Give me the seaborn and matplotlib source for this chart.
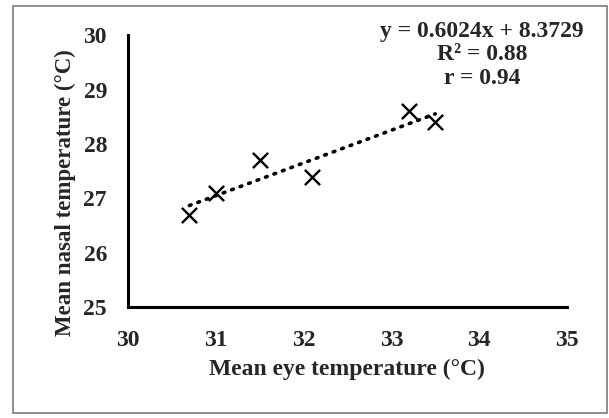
import numpy as np
import matplotlib
matplotlib.use('Agg')
import matplotlib.pyplot as plt
import seaborn as sns
import pandas as pd

sns.set_style('white')
plt.rcParams['font.family'] = ['Liberation Serif', 'DejaVu Serif']
plt.rcParams['font.weight'] = 'bold'

#### DATA ####
eye_temp = [30.7, 31.0, 31.5, 32.1, 33.2, 33.5]
nasal_temp = [26.7, 27.1, 27.7, 27.4, 28.6, 28.4]
x_ticks = [30, 31, 32, 33, 34, 35]
y_ticks = [25, 26, 27, 28, 29, 30]
eq_lines = ['y = 0.6024x + 8.3729', 'R² = 0.88', 'r = 0.94']

df = pd.DataFrame({'eye': eye_temp, 'nasal': nasal_temp})

fig = plt.figure(figsize=(6.09, 4.18), dpi=100)
ax = fig.add_axes([0.210, 0.2656, 0.721, 0.650])

# trend line
slope, intercept = np.polyfit(df['eye'], df['nasal'], 1)
xl = np.array([df['eye'].min(), df['eye'].max()])
ax.plot(xl, slope * xl + intercept, linestyle=(0, (0.5, 2.0)), color='black',
        linewidth=2.6, dash_capstyle='round', zorder=1)

sns.scatterplot(data=df, x='eye', y='nasal', marker='x', s=120, color='black',
                linewidth=1.7, ax=ax, zorder=2)

ax.set_xlim(30, 35)
ax.set_ylim(25, 30)
ax.set_xticks(x_ticks)
ax.set_yticks(y_ticks)
ax.tick_params(length=0, labelsize=17)
ax.tick_params(axis='x', pad=16.5)
ax.tick_params(axis='y', pad=15)
for lab in ax.get_xticklabels() + ax.get_yticklabels():
    lab.set_fontweight('bold')
ax.set_xlabel('Mean eye temperature (°C)', fontsize=17, fontweight='bold')
ax.set_ylabel('Mean nasal temperature (°C)', fontsize=16.5, fontweight='bold')
ax.xaxis.label.set_va('center')
ax.yaxis.label.set_va('center')
ax.xaxis.set_label_coords(0.5, -0.23)
ax.yaxis.set_label_coords(-0.142, 0.42)

for s in ['top', 'right']:
    ax.spines[s].set_visible(False)
for s in ['left', 'bottom']:
    ax.spines[s].set_linewidth(2.2)
    ax.spines[s].set_color('black')

for i, line in enumerate(eq_lines):
    fig.text(482 / 609, 1 - (32 + 23 * i) / 418, line, ha='center', va='center',
             fontsize=17, fontweight='bold')

# outer frame
fig.patches.append(plt.Rectangle((13 / 609, 5 / 418), 594 / 609, 407 / 418,
                                 transform=fig.transFigure, fill=False,
                                 edgecolor='#6f6f6f', linewidth=1.1))

fig.savefig('out.png', dpi=100)
